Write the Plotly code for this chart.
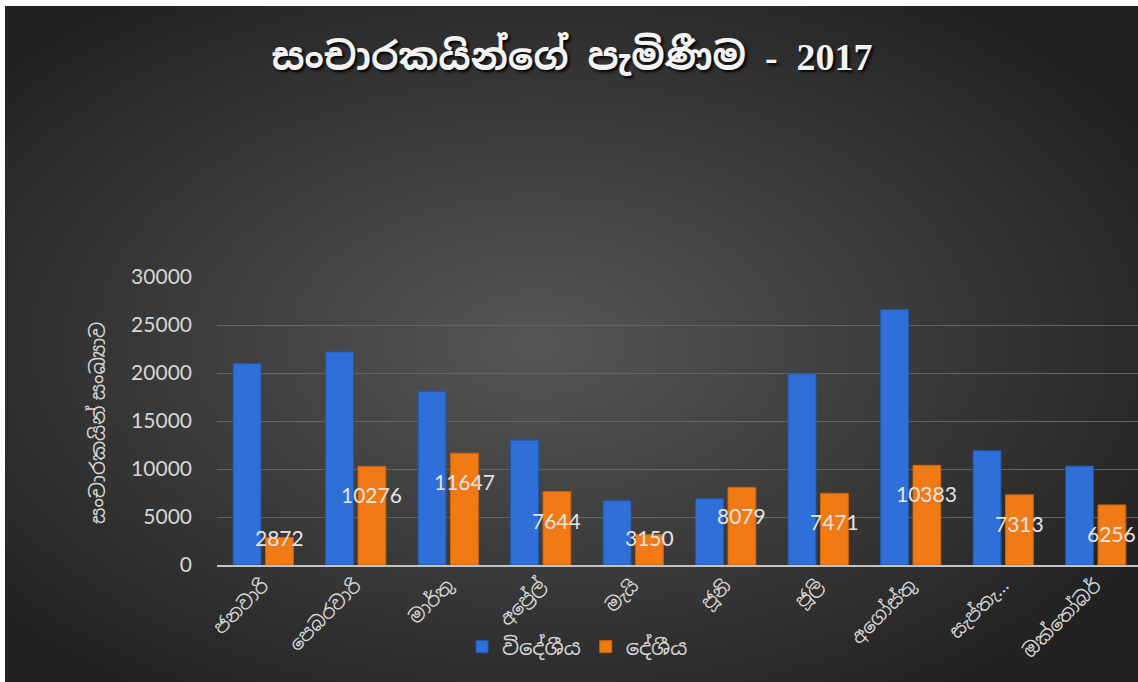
import base64
import plotly.graph_objects as go

# Monthly tourist arrivals, 2017
months = ["ජනවාරි", "පෙබරවාරි", "මාර්තු", "අප්‍රේල්", "මැයි",
          "ජූනි", "ජූලි", "අගෝස්තු", "සැප්තැ…", "ඔක්තෝබර්"]
foreign = [21000, 22200, 18100, 13000, 6700, 6900, 19900, 26600, 11900, 10300]
local = [2872, 10276, 11647, 7644, 3150, 8079, 7471, 10383, 7313, 6256]
y_ticks = [0, 5000, 10000, 15000, 20000, 25000, 30000]
y_tick_labels = ["0", "5000", "10000", "15000", "20000", "25000", "30000"]

NB = "\u00a0"
title_text = f"සංචාරකයින්ගේ{NB}{NB}පැමිණීම{NB}{NB}-{NB}{NB}2017"
y_title = "සංචාරකයින් සංඛ්‍යාව"
name_foreign = "විදේශීය"
name_local = "දේශීය"

W, H = 1138, 682
ML, MR, MT, MB = 217, 0, 277, 117
plot_w = W - ML - MR
plot_h = H - MT - MB
y_max = 30000
x_range = [-0.5, 9.457]
bargap = 0.3

TXT = "#d6d6d6"
FONT = "Lato, 'Noto Sans Sinhala', 'Noto Sans', sans-serif"

# radial-gradient backdrop as an inline SVG image
bg_w, bg_h = W - 5, H - 6
svg = (
    f'<svg xmlns="http://www.w3.org/2000/svg" width="{bg_w}" height="{bg_h}">'
    '<defs><radialGradient id="g" cx="0.47" cy="0.5" r="0.62">'
    '<stop offset="0" stop-color="#565656"/>'
    '<stop offset="1" stop-color="#222222"/>'
    '</radialGradient></defs>'
    '<rect width="100%" height="100%" fill="url(#g)"/></svg>'
)
bg_uri = "data:image/svg+xml;base64," + base64.b64encode(svg.encode()).decode()

fig = go.Figure()
fig.add_trace(go.Bar(
    x=months, y=foreign, name=name_foreign,
    marker=dict(color="#2F6FD8", line=dict(color="#2357B0", width=1)),
))
fig.add_trace(go.Bar(
    x=months, y=local, name=name_local,
    marker=dict(color="#F27A14", line=dict(color="#C9620C", width=1)),
))

# value labels on the orange bars
pitch = plot_w / (x_range[1] - x_range[0])
x_off = pitch * (1 - bargap) / 4
px_per_unit = plot_h / y_max
for m, v in zip(months, local):
    top_px = v * px_per_unit
    shift = -min(28.5, top_px - 28)
    fig.add_annotation(
        x=m, y=v, xshift=x_off, yshift=shift, text=str(v), showarrow=False,
        font=dict(family=FONT, size=21, color="#e4e4e4"),
        xanchor="center", yanchor="middle",
    )

fig.add_annotation(
    text=y_title, textangle=-90, showarrow=False,
    xref="paper", yref="paper",
    x=(97 - ML) / plot_w, y=(565 - 423) / plot_h,
    xanchor="center", yanchor="middle",
    font=dict(family=FONT, size=20, color=TXT),
)

fig.add_layout_image(
    source=bg_uri, xref="paper", yref="paper",
    x=(5 - ML) / plot_w, y=(565 - 6) / plot_h,
    sizex=bg_w / plot_w, sizey=bg_h / plot_h,
    xanchor="left", yanchor="top", sizing="stretch", layer="below",
)

fig.update_layout(
    width=W, height=H,
    margin=dict(l=ML, r=MR, t=MT, b=MB, pad=0),
    paper_bgcolor="white", plot_bgcolor="rgba(0,0,0,0)",
    barmode="group", bargap=bargap, bargroupgap=0.14,
    title=dict(
        text=title_text, x=572 / W, xanchor="center",
        y=1 - 57 / H, yanchor="middle",
        font=dict(family="'Liberation Serif', 'Noto Sans Sinhala', serif",
                  size=38, color="#f2f2f2", weight="bold",
                  shadow="2px 2px 3px #000"),
    ),
    xaxis=dict(
        type="category", range=x_range, tickangle=-45,
        showgrid=False, showline=True, linecolor="#c4c4c4", linewidth=2,
        ticks="", tickfont=dict(family=FONT, size=19, color=TXT),
    ),
    yaxis=dict(
        range=[0, y_max], tickvals=y_ticks, ticktext=y_tick_labels,
        ticklabelstandoff=24,
        showgrid=True, gridcolor="#646464", gridwidth=1,
        zeroline=False, showline=False, ticks="",
        tickfont=dict(family=FONT, size=21, color=TXT),
    ),
    legend=dict(
        orientation="h", x=(462 - ML) / plot_w, y=(565 - 647) / plot_h,
        xanchor="left", yanchor="middle", bgcolor="rgba(0,0,0,0)",
        font=dict(family=FONT, size=21, color=TXT),
    ),
    showlegend=True,
)

fig.write_html("out.html")
